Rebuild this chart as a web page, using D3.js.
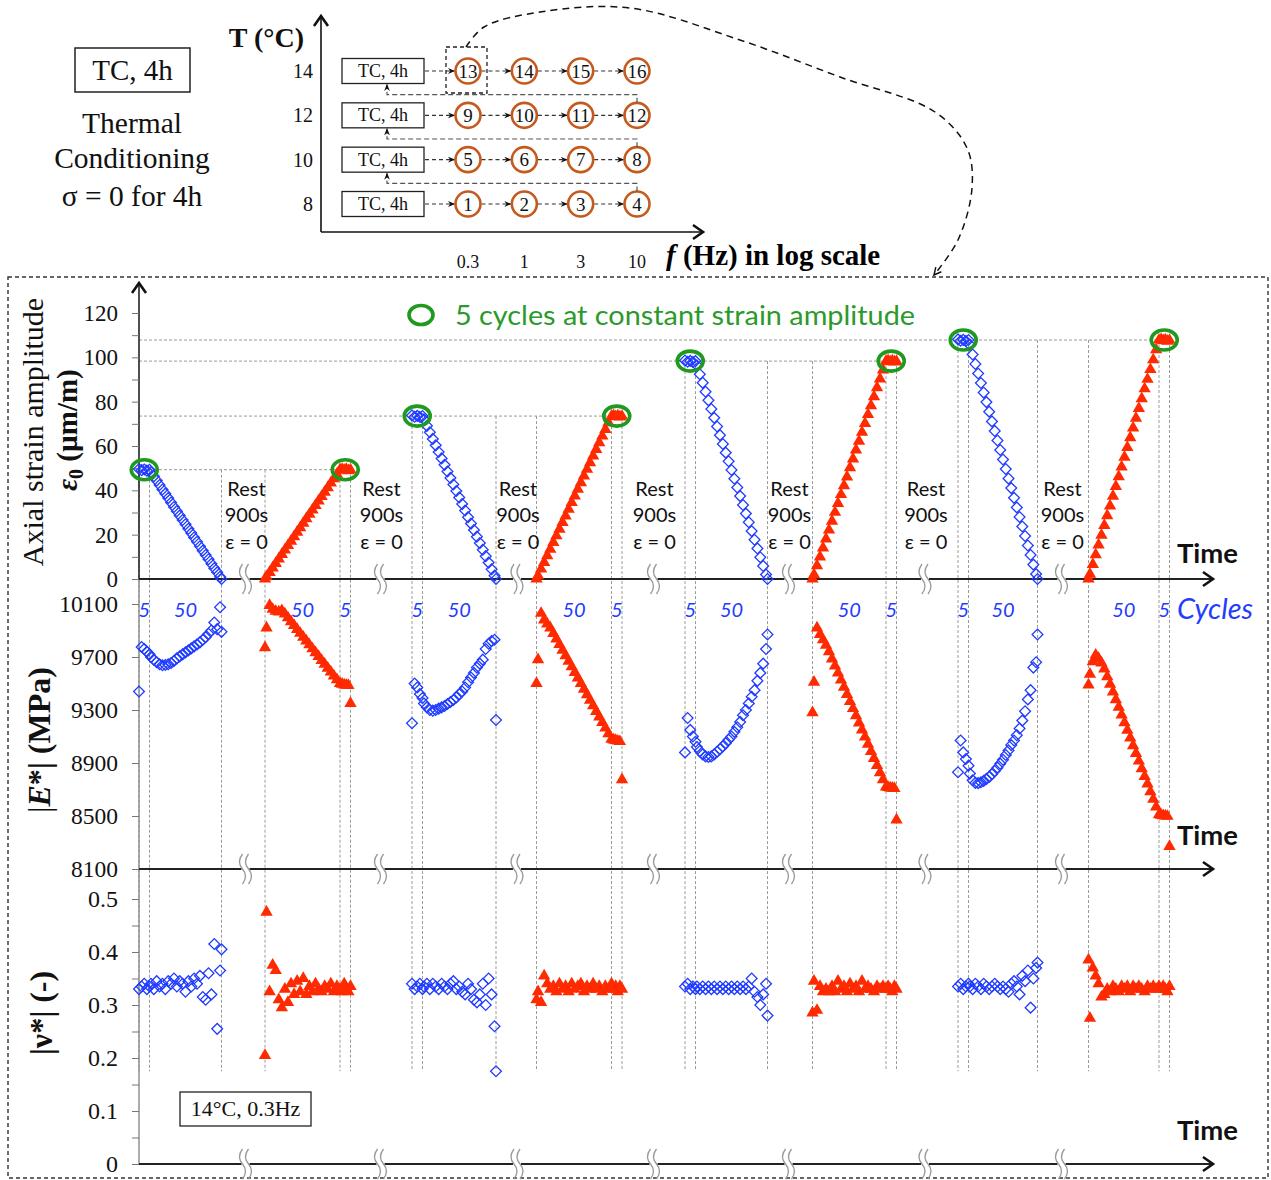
<!DOCTYPE html>
<html><head><meta charset="utf-8">
<script src="https://cdn.jsdelivr.net/npm/d3@7"></script>
<style>body{margin:0;background:#fff}</style>
</head><body>
<script>
// ---------------- DATA ----------------
const temps = [8, 10, 12, 14];
const freqs = ["0.3", "1", "3", "10"];
const testIds = [[1,2,3,4],[5,6,7,8],[9,10,11,12],[13,14,15,16]];
const strainTicks = [0,20,40,60,80,100,120];
const strainMinor = [10,30,50,70,90,110];
const modTicks = [8100,8500,8900,9300,9700,10100];
const nuTicks = [0,0.1,0.2,0.3,0.4,0.5];
const nuMinor = [0.05,0.15,0.25,0.35,0.45];
const amplitudes = [49.3, 73.5, 98.3, 107.8];
// time (broken axis units): [start, end of first segment, end] for blocks B1,R1,B2,R2,B3,R3,B4,R4
const blockTimes = [[0,7,55],[84,134,141],[182,189,238],[265,315,322],[364,371,419],[449,498,505],[546,553,599],[633,680,687]];
const breakTimes = [71,161,252,343,433,524,615];
const blueCycles = [1,2,3,4,5,6,8,10,12,14,16,18,20,22,24,26,28,30,32,34,36,38,40,42,44,46,48,50,52,54,55];
const redCycles  = [1,2,4,6,8,10,12,14,16,18,20,22,24,26,28,30,32,34,36,38,40,42,44,46,48,50,51,52,53,54,55];

const strainBlue = [
 [49.6,49.1,49.4,48.9,49.3,48.3,46.3,44.4,42.4,40.4,38.5,36.5,34.5,32.5,30.6,28.6,26.6,24.7,22.7,20.7,18.7,16.8,14.8,12.8,10.8,8.9,6.9,4.9,3.0,1.0,0],
 [73.8,73.2,73.6,73.1,73.5,72.0,69.1,66.2,63.2,60.3,57.3,54.4,51.5,48.5,45.6,42.6,39.7,36.8,33.8,30.9,27.9,25.0,22.1,19.1,16.2,13.2,10.3,7.4,4.4,1.5,0],
 [98.6,98.0,98.4,97.9,98.3,96.3,92.4,88.5,84.5,80.6,76.7,72.7,68.8,64.9,60.9,57.0,53.1,49.2,45.2,41.3,37.4,33.4,29.5,25.6,21.6,17.7,13.8,9.8,5.9,2.0,0],
 [108.1,107.5,107.9,107.4,107.8,105.6,101.3,97.0,92.7,88.4,84.1,79.8,75.5,71.1,66.8,62.5,58.2,53.9,49.6,45.3,41.0,36.6,32.3,28.0,23.7,19.4,15.1,10.8,6.5,2.2,0]
];
const strainRed = [
 [0,1.0,3.0,5.0,7.0,9.1,11.1,13.1,15.1,17.1,19.1,21.1,23.1,25.2,27.2,29.2,31.2,33.2,35.2,37.2,39.2,41.2,43.3,45.3,47.3,49.3,49.5,49.1,49.4,48.9,49.2],
 [0,1.5,4.5,7.5,10.5,13.5,16.5,19.5,22.5,25.5,28.5,31.5,34.5,37.5,40.5,43.5,46.5,49.5,52.5,55.5,58.5,61.5,64.5,67.5,70.5,73.5,73.7,73.2,73.6,73.1,73.4],
 [0,2.0,6.0,10.0,14.0,18.1,22.1,26.1,30.1,34.1,38.1,42.1,46.1,50.2,54.2,58.2,62.2,66.2,70.2,74.2,78.2,82.3,86.3,90.3,94.3,98.3,98.5,98.0,98.4,97.9,98.2],
 [0,2.2,6.6,11.0,15.4,19.8,24.2,28.6,33.0,37.4,41.8,46.2,50.6,55.0,59.4,63.8,68.2,72.6,77.0,81.4,85.8,90.1,94.5,98.9,103.4,107.8,108.0,107.5,107.9,107.3,107.7]
];
const modBlue = [
 [9440,9775,9760,9740,9720,9700,9680,9660,9645,9638,9640,9645,9655,9670,9690,9705,9720,9735,9750,9765,9780,9795,9810,9830,9850,9875,9900,9960,9910,10075,9890],
 [9200,9500,9470,9420,9390,9350,9320,9300,9295,9300,9310,9320,9330,9345,9360,9375,9395,9420,9440,9470,9510,9545,9580,9620,9650,9680,9760,9800,9820,9830,9225],
 [8980,9240,9150,9100,9060,9020,8990,8965,8950,8945,8950,8965,8985,9005,9025,9050,9075,9100,9135,9170,9210,9260,9300,9350,9400,9450,9520,9580,9650,9760,9870],
 [8830,9070,8980,8930,8880,8820,8770,8750,8748,8755,8765,8780,8795,8815,8840,8865,8895,8925,8960,8995,9035,9070,9110,9160,9220,9290,9380,9450,9620,9660,9870]
];
const modRed = [
 [9770,9920,10090,10060,10045,10040,10050,10025,9996,9967,9938,9908,9879,9850,9821,9792,9762,9733,9704,9675,9646,9616,9587,9558,9529,9500,9495,9490,9488,9485,9350],
 [9500,9680,10030,9980,9950,9920,9878,9836,9794,9752,9710,9668,9626,9584,9542,9500,9458,9416,9374,9332,9290,9248,9206,9164,9122,9080,9075,9070,9066,9062,8775],
 [9280,9510,9920,9870,9830,9790,9740,9686,9633,9579,9526,9472,9418,9364,9311,9257,9203,9150,9096,9042,8988,8935,8881,8827,8774,8720,8716,8712,8710,8708,8470],
 [9490,9570,9665,9715,9690,9655,9610,9552,9494,9436,9378,9321,9263,9205,9147,9089,9031,8973,8915,8857,8799,8742,8684,8626,8568,8510,8506,8503,8500,8498,8270]
];
const nuBlue = [
 [0.330,0.335,0.340,0.330,0.335,0.340,0.330,0.345,0.335,0.340,0.330,0.345,0.340,0.350,0.335,0.345,0.340,0.325,0.345,0.335,0.350,0.340,0.355,0.315,0.310,0.360,0.320,0.415,0.255,0.365,0.405],
 [0.340,0.330,0.335,0.340,0.330,0.335,0.340,0.330,0.340,0.335,0.330,0.340,0.335,0.330,0.340,0.345,0.330,0.335,0.325,0.320,0.340,0.330,0.310,0.305,0.320,0.340,0.300,0.350,0.320,0.260,0.175],
 [0.335,0.340,0.330,0.335,0.330,0.335,0.330,0.335,0.330,0.335,0.330,0.335,0.330,0.335,0.330,0.335,0.330,0.335,0.330,0.335,0.330,0.335,0.330,0.335,0.350,0.325,0.315,0.300,0.320,0.340,0.280],
 [0.335,0.340,0.330,0.335,0.340,0.335,0.330,0.340,0.335,0.330,0.340,0.335,0.330,0.335,0.340,0.335,0.330,0.335,0.330,0.325,0.340,0.345,0.335,0.320,0.355,0.345,0.365,0.295,0.350,0.370,0.380]
];
const nuRed = [
 [0.205,0.475,0.325,0.375,0.365,0.310,0.295,0.330,0.305,0.340,0.320,0.345,0.325,0.350,0.320,0.335,0.325,0.340,0.330,0.325,0.335,0.330,0.340,0.325,0.335,0.330,0.325,0.340,0.330,0.325,0.335],
 [0.310,0.325,0.305,0.355,0.340,0.330,0.335,0.325,0.340,0.330,0.335,0.325,0.340,0.330,0.335,0.340,0.325,0.335,0.330,0.340,0.330,0.335,0.325,0.335,0.330,0.340,0.330,0.335,0.325,0.335,0.330],
 [0.285,0.345,0.290,0.335,0.325,0.330,0.325,0.335,0.325,0.345,0.330,0.335,0.325,0.340,0.330,0.335,0.325,0.345,0.330,0.335,0.330,0.325,0.335,0.330,0.335,0.330,0.335,0.330,0.325,0.335,0.330],
 [0.385,0.275,0.370,0.355,0.340,0.315,0.320,0.330,0.325,0.335,0.330,0.325,0.335,0.330,0.335,0.325,0.335,0.330,0.335,0.330,0.325,0.335,0.330,0.335,0.330,0.335,0.330,0.335,0.330,0.325,0.335]
];

// ---------------- STYLE / LAYOUT ----------------
const W = 1271, H = 1180;
const serif = "'Liberation Serif','Times New Roman',serif";
const sans = "Lato,'Open Sans',sans-serif";
const BLUE = "#1f3cff", RED = "#ff2a00", GREEN = "#1f9a1f", GRID = "#9a9a9a";

const svg = d3.select("body").append("svg").attr("width", W).attr("height", H);
const defs = svg.append("defs");
defs.append("marker").attr("id","ah").attr("viewBox","0 0 10 10").attr("refX",9).attr("refY",5)
  .attr("markerWidth",6).attr("markerHeight",6).attr("orient","auto")
  .append("path").attr("d","M0,1 L10,5 L0,9 L3,5 Z").attr("fill","#111");
defs.append("marker").attr("id","ahOpen").attr("viewBox","0 0 10 10").attr("refX",9).attr("refY",5)
  .attr("markerWidth",9).attr("markerHeight",9).attr("orient","auto").attr("markerUnits","userSpaceOnUse")
  .append("path").attr("d","M1,1 L9,5 L1,9").attr("fill","none").attr("stroke","#111").attr("stroke-width",1.6);

function chevron(g, x, y, dir) {
  const p = dir === "up" ? `M${x-7},${y+10} L${x},${y} L${x+7},${y+10}` : `M${x-10},${y-7} L${x},${y} L${x-10},${y+7}`;
  g.append("path").attr("d", p).attr("fill","none").attr("stroke","#111").attr("stroke-width",2.6);
}
function stext(g, xx, yy, s, fs, anchor) {
  return g.append("text").attr("x",xx).attr("y",yy).attr("font-family",serif).attr("font-size",fs)
    .attr("text-anchor",anchor || "middle").attr("fill","#111").text(s);
}

// ---------------- TOP-LEFT TEXT ----------------
const tl = svg.append("g");
tl.append("rect").attr("x",75).attr("y",48).attr("width",115).attr("height",44).attr("fill","none").attr("stroke","#222").attr("stroke-width",1.5);
stext(tl,132.5,80,"TC, 4h",29);
[["Thermal",133],["Conditioning",168],["σ = 0 for 4h",206]].forEach(([t,y]) => stext(tl,132,y,t,29.5));

// ---------------- TOP DIAGRAM ----------------
const td = svg.append("g");
const yT = d3.scalePoint().domain(temps).range([204, 71]);
const xF = d3.scalePoint().domain(freqs).range([468, 637]);
const R = 12.5;
td.append("line").attr("x1",321).attr("x2",321).attr("y1",232).attr("y2",17).attr("stroke","#111").attr("stroke-width",1.6);
chevron(td,321,16,"up");
td.append("line").attr("x1",321).attr("x2",702).attr("y1",232).attr("y2",232).attr("stroke","#111").attr("stroke-width",1.6);
chevron(td,703,232,"right");
stext(td,304,47,"T (°C)",28,"end").attr("font-weight","bold");
temps.forEach(t => stext(td,313,yT(t)+7,t,20,"end"));
freqs.forEach(f => stext(td,xF(f),268,f,18));
const ft = td.append("text").attr("x",666).attr("y",265).attr("font-family",serif).attr("font-size",29).attr("font-weight","bold");
ft.append("tspan").attr("font-style","italic").text("f");
ft.append("tspan").text(" (Hz) in log scale");

temps.forEach((t, ti) => {
  const y = yT(t);
  td.append("rect").attr("x",342).attr("y",y-12.5).attr("width",82).attr("height",25).attr("fill","#fff").attr("stroke","#222").attr("stroke-width",1.3);
  stext(td,383,y+6,"TC, 4h",18);
  td.append("line").attr("x1",425).attr("x2",xF(freqs[0])-R-1).attr("y1",y).attr("y2",y)
    .attr("stroke","#333").attr("stroke-width",1.2).attr("stroke-dasharray","4,3").attr("marker-end","url(#ah)");
  freqs.forEach((f, fi) => {
    if (fi < freqs.length-1)
      td.append("line").attr("x1",xF(f)+R+1).attr("x2",xF(freqs[fi+1])-R-1).attr("y1",y).attr("y2",y)
        .attr("stroke","#333").attr("stroke-width",1.2).attr("stroke-dasharray","4,3").attr("marker-end","url(#ah)");
    td.append("circle").attr("cx",xF(f)).attr("cy",y).attr("r",R).attr("fill","#fff").attr("stroke","#c45a1e").attr("stroke-width",2.6);
    stext(td,xF(f),y+6.5,testIds[ti][fi],19);
  });
  if (ti < temps.length-1) {
    const yn = yT(temps[ti+1]);
    const yc = (y + yn)/2 + 1.5;
    const xl = xF(freqs[freqs.length-1]);
    td.append("path").attr("d",`M${xl},${y-R} V${yc} H387 V${yn+R+1}`).attr("fill","none")
      .attr("stroke","#555").attr("stroke-width",1.2).attr("stroke-dasharray","5,3").attr("marker-end","url(#ah)");
  }
});
// dashed selection box around test 13
td.append("rect").attr("x",xF(freqs[0])-22).attr("y",yT(14)-24).attr("width",41).attr("height",46)
  .attr("fill","none").attr("stroke","#222").attr("stroke-width",1.3).attr("stroke-dasharray","4,3");
// curved link to main figure
const curvePts = [[466,47],[484,27],[540,12],[630,8],[740,40],[840,77],[935,112],[967,148],[972,188],[958,240],[934,275]];
td.append("path").attr("d", d3.line().curve(d3.curveCatmullRom)(curvePts)).attr("fill","none")
  .attr("stroke","#111").attr("stroke-width",1.5).attr("stroke-dasharray","7,5").attr("marker-end","url(#ahOpen)");

// ---------------- MAIN FRAME ----------------
svg.append("rect").attr("x",8).attr("y",277).attr("width",1260).attr("height",901).attr("fill","none")
  .attr("stroke","#333").attr("stroke-width",1.4).attr("stroke-dasharray","4,3");

const x = d3.scaleLinear().domain([0,716]).range([139,1213]);
const yS = d3.scaleLinear().domain([0,120]).range([579,313]);
const yE = d3.scaleLinear().domain([8100,10100]).range([869,604]);
const yN = d3.scaleLinear().domain([0,0.5]).range([1164,899]);
const X0 = x(0), XEND = 1213;
const lineBottom = yN(0.175);

const grid = svg.append("g");
amplitudes.forEach((a,k) => {
  grid.append("line").attr("x1",X0).attr("x2",x(blockTimes[2*k+1][2])).attr("y1",yS(a)).attr("y2",yS(a))
    .attr("stroke",GRID).attr("stroke-width",1).attr("stroke-dasharray","3,2");
});
blockTimes.forEach((bt,b) => {
  const a = amplitudes[Math.floor(b/2)];
  bt.forEach(t => grid.append("line").attr("x1",x(t)).attr("x2",x(t)).attr("y1",yS(a)).attr("y2",lineBottom)
    .attr("stroke",GRID).attr("stroke-width",1).attr("stroke-dasharray","3,2"));
});

// axes
const ax = svg.append("g");
ax.append("line").attr("x1",X0).attr("x2",X0).attr("y1",yS(0)).attr("y2",284).attr("stroke","#222").attr("stroke-width",1.6);
chevron(ax,X0,283,"up");
ax.append("line").attr("x1",X0).attr("x2",X0).attr("y1",yS(0)).attr("y2",yN(0)).attr("stroke","#8a8a8a").attr("stroke-width",1.4);

function yAxis(scale, major, minor, fmt, fs) {
  const g = svg.append("g").attr("transform",`translate(${X0},0)`);
  g.call(d3.axisLeft(scale).tickValues(major).tickSize(7).tickPadding(14).tickFormat(fmt));
  g.selectAll(".domain").remove();
  g.selectAll(".tick line").attr("stroke","#777");
  g.selectAll(".tick text").attr("font-family",serif).attr("font-size",fs).attr("fill","#111");
  if (minor) {
    const gm = svg.append("g").attr("transform",`translate(${X0},0)`);
    gm.call(d3.axisLeft(scale).tickValues(minor).tickSize(7).tickFormat(""));
    gm.selectAll(".domain").remove();
    gm.selectAll(".tick line").attr("stroke","#777");
  }
  return g;
}
yAxis(yS, strainTicks, strainMinor, d3.format("d"), 23);
yAxis(yE, modTicks, null, d3.format("d"), 23.5);
yAxis(yN, nuTicks, nuMinor, v => v === 0 ? "0" : d3.format(".1f")(v), 24);

// horizontal time axes with breaks
[yS(0), yE(8100), yN(0)].forEach(yy => {
  ax.append("line").attr("x1",X0).attr("x2",XEND).attr("y1",yy).attr("y2",yy).attr("stroke","#222").attr("stroke-width",1.8);
  chevron(ax,XEND,yy,"right");
  breakTimes.forEach(t => {
    const bx = x(t);
    ax.append("rect").attr("x",bx-4).attr("y",yy-3).attr("width",8).attr("height",6).attr("fill","#fff");
    [-3,3].forEach(o => ax.append("path")
      .attr("d",`M${bx+o},${yy-15} Q${bx+o-6},${yy-7} ${bx+o},${yy} Q${bx+o+6},${yy+7} ${bx+o},${yy+15}`)
      .attr("fill","none").attr("stroke","#999").attr("stroke-width",1.3));
  });
});

// axis titles
const tt = svg.append("g").attr("fill","#111");
tt.append("text").attr("transform","translate(43,432) rotate(-90)").attr("text-anchor","middle").attr("font-family",serif).attr("font-size",30).text("Axial strain amplitude");
const e0 = tt.append("text").attr("transform","translate(77,430) rotate(-90)").attr("text-anchor","middle").attr("font-family",serif).attr("font-size",29).attr("font-weight","bold");
e0.append("tspan").attr("font-style","italic").text("ε");
e0.append("tspan").attr("font-size",20).attr("dy",6).text("0");
e0.append("tspan").attr("dy",-6).text(" (µm/m)");
const eT = tt.append("text").attr("transform","translate(50,740) rotate(-90)").attr("text-anchor","middle").attr("font-family",serif).attr("font-size",32).attr("font-weight","bold");
eT.append("tspan").attr("font-weight","normal").text("|");
eT.append("tspan").attr("font-style","italic").text("E");
eT.append("tspan").text("*| (MPa)");
tt.append("text").attr("transform","translate(52,1013) rotate(-90)").attr("text-anchor","middle").attr("font-family",serif).attr("font-size",32).attr("font-weight","bold").text("|ν*| (-)");

// rest labels
const rl = svg.append("g").attr("font-family",sans).attr("font-size",20).attr("fill","#111").attr("text-anchor","middle");
breakTimes.forEach(t => {
  [["Rest",496],["900s",522],["ε = 0",549]].forEach(([s,y]) => rl.append("text").attr("x",x(t)+1).attr("y",y).text(s));
});

// cycles labels
const cl = svg.append("g").attr("font-family",sans).attr("font-style","italic").attr("fill",BLUE).attr("font-size",20).attr("text-anchor","middle");
blockTimes.forEach((bt,b) => {
  const blue = b % 2 === 0;
  const labs = blue ? ["5","50"] : ["50","5"];
  cl.append("text").attr("x",x((bt[0]+bt[1])/2)).attr("y",617).text(labs[0]);
  cl.append("text").attr("x",x((bt[1]+bt[2])/2)).attr("y",617).text(labs[1]);
});
svg.append("text").attr("x",1177).attr("y",619).attr("font-family",sans).attr("font-style","italic").attr("font-size",28)
  .attr("fill",BLUE).attr("textLength",76).attr("lengthAdjust","spacingAndGlyphs").text("Cycles");
[563,845,1140].forEach(y => svg.append("text").attr("x",1177).attr("y",y).attr("font-family",sans).attr("font-weight","bold")
  .attr("font-size",27).attr("fill","#111").attr("textLength",61).attr("lengthAdjust","spacingAndGlyphs").text("Time"));

// ---------------- DATA POINTS ----------------
const diamondPath = d3.symbol(d3.symbolSquare, 58)();
const trianglePath = d3.symbol(d3.symbolTriangle, 66)();
const pts = svg.append("g");
function plot(vals, cyc, times, yScale, blue) {
  const loc = d3.scaleLinear().domain(blue ? [1,5,55] : [1,50,55]).range(times);
  pts.append("g").selectAll("path").data(vals).join("path")
    .attr("transform",(v,i) => `translate(${x(loc(cyc[i]))},${yScale(v)})` + (blue ? " rotate(45)" : ""))
    .attr("d", blue ? diamondPath : trianglePath)
    .attr("fill", blue ? "none" : RED)
    .attr("stroke", blue ? BLUE : "none")
    .attr("stroke-width", 1.3);
}
for (let k = 0; k < 4; k++) {
  plot(strainBlue[k], blueCycles, blockTimes[2*k], yS, true);
  plot(strainRed[k], redCycles, blockTimes[2*k+1], yS, false);
  plot(modBlue[k], blueCycles, blockTimes[2*k], yE, true);
  plot(modRed[k], redCycles, blockTimes[2*k+1], yE, false);
  plot(nuBlue[k], blueCycles, blockTimes[2*k], yN, true);
  plot(nuRed[k], redCycles, blockTimes[2*k+1], yN, false);
}

// green circles: 5 cycles at constant strain amplitude
const gc = svg.append("g");
amplitudes.forEach((a,k) => {
  const bb = blockTimes[2*k], rb = blockTimes[2*k+1];
  [ (bb[0]+bb[1])/2, (rb[1]+rb[2])/2 ].forEach(t =>
    gc.append("ellipse").attr("cx",x(t)).attr("cy",yS(a)).attr("rx",13).attr("ry",10)
      .attr("fill","none").attr("stroke",GREEN).attr("stroke-width",3.6));
});
gc.append("ellipse").attr("cx",421).attr("cy",315).attr("rx",12).attr("ry",9.5).attr("fill","none").attr("stroke",GREEN).attr("stroke-width",3.6);
svg.append("text").attr("x",455).attr("y",325).attr("font-family",sans).attr("font-size",26).attr("fill","#2a9a2a")
  .attr("textLength",460).attr("lengthAdjust","spacingAndGlyphs").text("5 cycles at constant strain amplitude");

// condition box
svg.append("rect").attr("x",180).attr("y",1092).attr("width",131).attr("height",34).attr("fill","#fff").attr("stroke","#222").attr("stroke-width",1.3);
stext(svg,245.5,1116,"14°C, 0.3Hz",22);
</script>
</body></html>
